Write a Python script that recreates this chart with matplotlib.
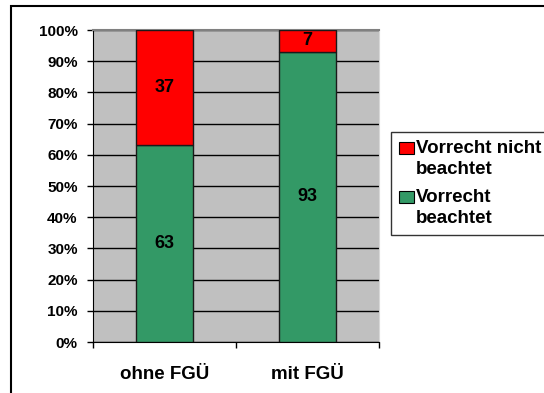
import matplotlib
matplotlib.use("Agg")
import matplotlib.pyplot as plt
from matplotlib.patches import Rectangle
from matplotlib.ticker import FixedLocator, PercentFormatter
from matplotlib.legend_handler import HandlerPatch

plt.rcParams['font.family'] = ['Liberation Sans', 'DejaVu Sans']
plt.rcParams['font.weight'] = 'bold'

categories = ["ohne FGÜ", "mit FGÜ"]
beachtet = [63, 93]
nicht_beachtet = [37, 7]
series_labels = ["Vorrecht nicht\nbeachtet", "Vorrecht\nbeachtet"]
yticks = [0, 10, 20, 30, 40, 50, 60, 70, 80, 90, 100]

W, H = 544, 393
fig = plt.figure(figsize=(W / 100, H / 100), dpi=100)
ax = fig.add_axes([93 / W, 1 - 342 / H, (379 - 93) / W, (342 - 30) / H])
ax.set_facecolor('#C0C0C0')

x = list(range(len(categories)))
bw = 0.4
b_green = ax.bar(x, beachtet, width=bw, color='#339966', edgecolor='#1a1a1a', linewidth=1, zorder=3)
b_red = ax.bar(x, nicht_beachtet, width=bw, bottom=beachtet, color='#FF0000', edgecolor='#1a1a1a', linewidth=1, zorder=3)

for i in x:
    ax.text(i, beachtet[i] / 2, str(beachtet[i]), ha='center', va='center', fontsize=13, fontweight='bold', zorder=4)
    ax.text(i, beachtet[i] + nicht_beachtet[i] / 2, str(nicht_beachtet[i]), ha='center', va='center', fontsize=13, fontweight='bold', zorder=4)

ax.set_xlim(-0.5, len(categories) - 0.5)
ax.set_ylim(0, 100)
ax.set_yticks(yticks)
ax.yaxis.set_major_formatter(PercentFormatter(decimals=0))
ax.yaxis.grid(True, color='#000000', linewidth=1, zorder=1)
ax.set_axisbelow(True)
ax.tick_params(axis='y', direction='out', length=4, width=1, pad=7, labelsize=11)
for lab in ax.get_yticklabels():
    lab.set_fontweight('bold')

ax.set_xticks(x)
ax.set_xticklabels(categories, fontsize=13.5, fontweight='bold')
ax.tick_params(axis='x', which='major', length=0, pad=17)
ax.xaxis.set_minor_locator(FixedLocator([-0.5, 0.5, 1.5]))
ax.tick_params(axis='x', which='minor', direction='out', length=4, width=1)

ax.spines['left'].set_color('#000000')
ax.spines['bottom'].set_color('#000000')
ax.spines['top'].set_color('#808080')
ax.spines['top'].set_linewidth(1.5)
ax.spines['right'].set_color('#D8D8D8')


def top_square(legend, orig_handle, xdescent, ydescent, width, height, fontsize):
    side_h = 0.64 * fontsize
    return Rectangle((-xdescent, -ydescent + height - side_h + 0.1 * fontsize), width, side_h)


handler = HandlerPatch(patch_func=top_square)
leg = fig.legend([b_red.patches[0], b_green.patches[0]], series_labels, loc='upper left',
                 bbox_to_anchor=(391 / W, 1 - 132 / H), bbox_transform=fig.transFigure,
                 fontsize=13.5, frameon=True, fancybox=False, edgecolor='#000000',
                 handlelength=0.78, handleheight=2.2, handletextpad=0.12,
                 borderpad=0.45, labelspacing=0.57, borderaxespad=0,
                 handler_map={Rectangle: handler})
for t in leg.get_texts():
    t.set_fontweight('bold')
    t.set_linespacing(1.3)
leg.get_frame().set_linewidth(1)
for h in leg.legend_handles:
    h.set_edgecolor('#000000')
    h.set_linewidth(0.8)

fig.patches.append(Rectangle((11 / W, -0.1), 2, 1.1 - 6 / H, transform=fig.transFigure,
                             fill=False, edgecolor='#000000', linewidth=1.5, clip_on=False))

fig.savefig('out.png', dpi=100)
